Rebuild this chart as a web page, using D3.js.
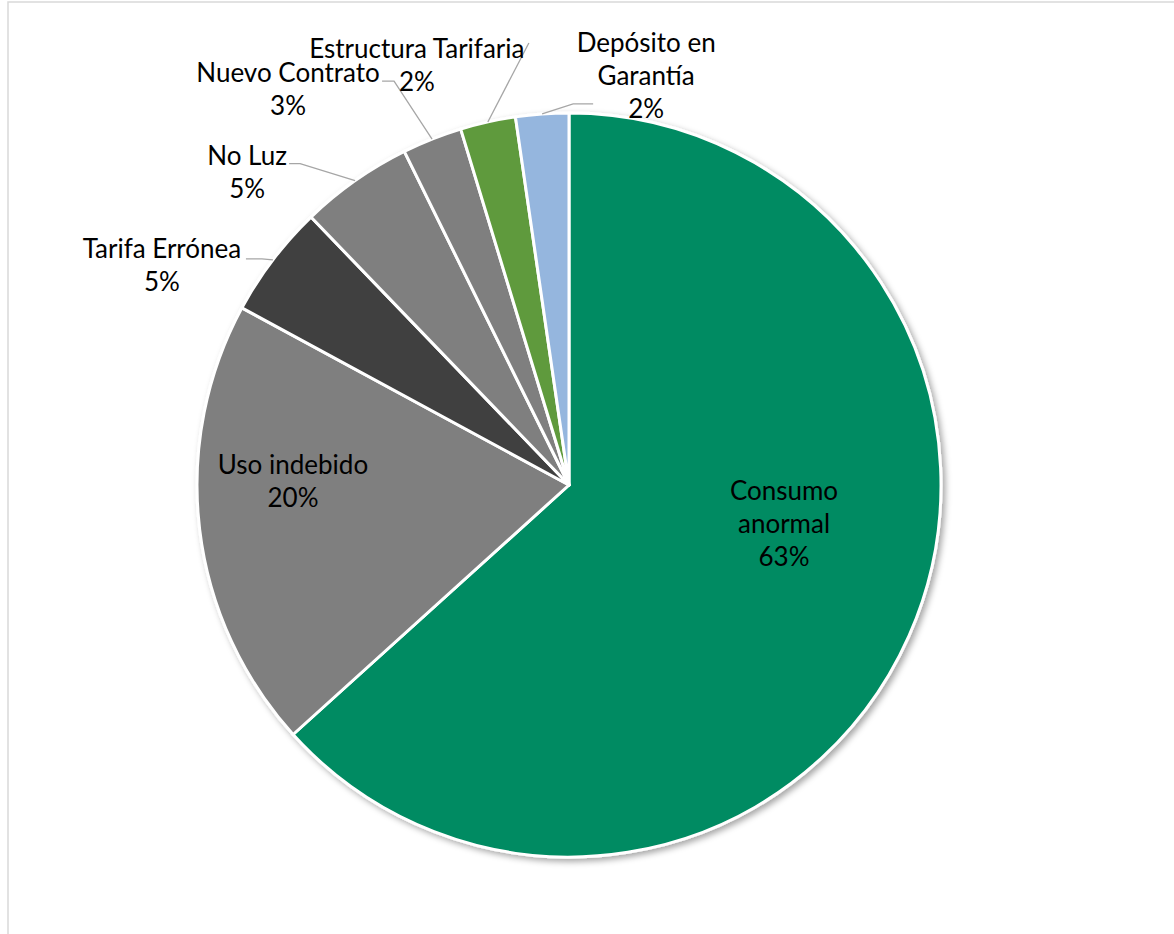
<!DOCTYPE html>
<html><head><meta charset="utf-8">
<script src="https://cdn.jsdelivr.net/npm/d3@7/dist/d3.min.js"></script>
<style>html,body{margin:0;padding:0;background:#fff;}svg{display:block;}</style>
</head><body>
<svg id="chart" width="1174" height="934"></svg>
<script>
// Data
const categories = ["Consumo anormal","Uso indebido","Tarifa Errónea","No Luz","Nuevo Contrato","Estructura Tarifaria","Depósito en Garantía"];
const values = [63.3, 19.6, 4.9, 4.9, 2.6, 2.4, 2.3];
const labelLines = [["Consumo","anormal"],["Uso indebido"],["Tarifa Errónea"],["No Luz"],["Nuevo Contrato"],["Estructura Tarifaria"],["Depósito en","Garantía"]];
const colors = ["#008B62","#7F7F7F","#404040","#7F7F7F","#7F7F7F","#5F9A3E","#95B6DE"];

// Layout (label placement relative to slice edge point / centroid)
const cx = 569, cy = 485, R = 372;
const layout = [
  {inside:true, lx:784, ly:500},
  {inside:true, lx:293, ly:474},
  {lx:-111, ly:-2, bend:[-11,-1], end:[-27,-1]},
  {lx:-108, ly:-16, bend:[-55,-17], end:[-66,-17]},
  {lx:-144, ly:-57, bend:[-38,-58], end:[-50,-58]},
  {lx:-71, ly:-64, bend:[41,-79], end:[41,-79]},
  {lx:104, ly:-62, bend:[31,-10], end:[51,-10]}
];
const lineH = 33;

const svg = d3.select("#chart");
const defs = svg.append("defs");
const f = defs.append("filter").attr("id","sh").attr("x","-10%").attr("y","-10%").attr("width","130%").attr("height","130%");
f.append("feDropShadow").attr("dx",3).attr("dy",3).attr("stdDeviation",3).attr("flood-color","#000").attr("flood-opacity",0.35);

svg.append("rect").attr("x",8).attr("y",2).attr("width",1300).attr("height",1100)
  .attr("fill","none").attr("stroke","#d9d9d9").attr("stroke-width",1.5);

const data = categories.map((c,i)=>({name:c, value:values[i], i}));
const pie = d3.pie().value(d=>d.value).sort(null);
const arcs = pie(data);
const arc = d3.arc().innerRadius(0).outerRadius(R);
const edgeArc = d3.arc().innerRadius(R).outerRadius(R);

const g = svg.append("g").attr("transform",`translate(${cx},${cy})`);
g.append("g").attr("filter","url(#sh)").selectAll("path").data(arcs).join("path")
  .attr("d",arc).attr("fill",d=>colors[d.data.i])
  .attr("stroke","#fff").attr("stroke-width",3).attr("stroke-linejoin","round");

const total = d3.sum(values);
const fmt = v => Math.round(v/total*100) + "%";
const font = "Lato, 'Open Sans', sans-serif";

arcs.forEach(d=>{
  const L = layout[d.data.i];
  const lines = labelLines[d.data.i].concat([fmt(d.data.value)]);
  let x, y;
  if (L.inside) {
    x = L.lx; y = L.ly;
  } else {
    const [ex, ey] = edgeArc.centroid(d);
    const px = cx+ex, py = cy+ey;
    x = px + L.lx; y = py + L.ly;
    const pts = [[px,py],[px+L.bend[0],py+L.bend[1]],[px+L.end[0],py+L.end[1]]];
    svg.append("path").attr("d", d3.line()(pts)).attr("fill","none")
      .attr("stroke","#A6A6A6").attr("stroke-width",1.3);
  }
  const t = svg.append("text").attr("text-anchor","middle").attr("font-family",font)
    .attr("font-size",26).attr("fill","#000");
  lines.forEach((s,k)=>t.append("tspan").attr("x",x).attr("y",y+k*lineH).text(s));
});
</script>
</body></html>
